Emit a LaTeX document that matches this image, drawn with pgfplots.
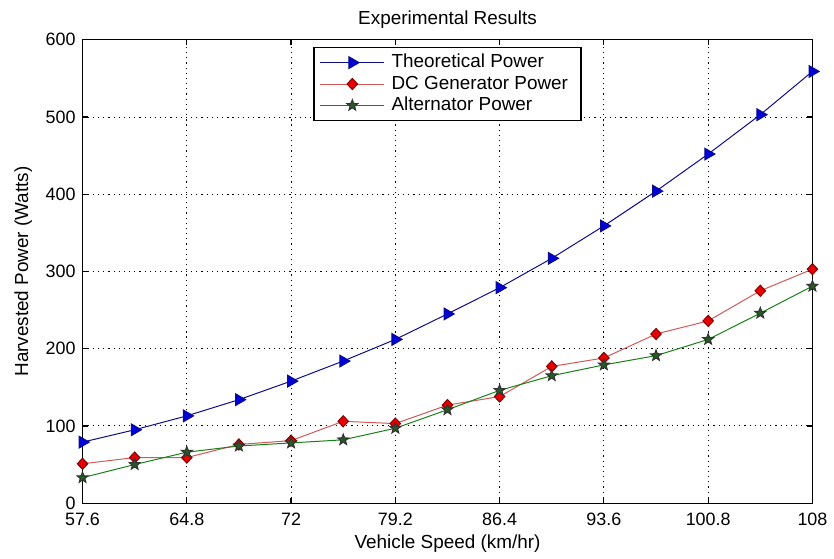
\documentclass[border=0pt]{standalone}
\usepackage{pgfplots}
\pgfplotsset{compat=1.18}
\usepackage{fontspec}
\setmainfont{Liberation Sans}
\pgfdeclareplotmark{fstar}{%
  \pgfpathmoveto{\pgfpointpolar{90}{\pgfplotmarksize}}%
  \pgfpathlineto{\pgfpointpolar{126}{0.42\pgfplotmarksize}}%
  \pgfpathlineto{\pgfpointpolar{162}{\pgfplotmarksize}}%
  \pgfpathlineto{\pgfpointpolar{198}{0.42\pgfplotmarksize}}%
  \pgfpathlineto{\pgfpointpolar{234}{\pgfplotmarksize}}%
  \pgfpathlineto{\pgfpointpolar{270}{0.42\pgfplotmarksize}}%
  \pgfpathlineto{\pgfpointpolar{306}{\pgfplotmarksize}}%
  \pgfpathlineto{\pgfpointpolar{342}{0.42\pgfplotmarksize}}%
  \pgfpathlineto{\pgfpointpolar{18}{\pgfplotmarksize}}%
  \pgfpathlineto{\pgfpointpolar{54}{0.42\pgfplotmarksize}}%
  \pgfpathclose
  \pgfusepathqfillstroke}
\definecolor{tline}{rgb}{0.05,0.05,0.55}
\definecolor{tfill}{rgb}{0.0,0.0,0.85}
\definecolor{rline}{rgb}{0.82,0.35,0.35}
\definecolor{rfill}{rgb}{0.92,0.0,0.0}
\definecolor{redge}{rgb}{0.5,0.0,0.0}
\definecolor{gline}{rgb}{0.1,0.5,0.1}
\definecolor{gfill}{rgb}{0.15,0.35,0.15}
\begin{document}
\begin{tikzpicture}
\begin{axis}[
  name=ax, at={(0,0)}, anchor=south west,
  scale only axis, width=367pt, height=233pt,
  xmin=57.6, xmax=108, ymin=0, ymax=600,
  xtick={57.6,64.8,72,79.2,86.4,93.6,100.8,108},
  xticklabels={57.6,64.8,72,79.2,86.4,93.6,100.8,108},
  ytick={0,100,200,300,400,500,600},
  /pgf/number format/assume math mode=true,
  grid=major,
  major grid style={black, line width=0.5pt, dash pattern=on 0.6pt off 2pt},
  axis line style={black, line width=0.6pt},
  major tick length=2.5pt,
  tick style={black, line width=0.6pt},
  tick label style={font=\fontsize{9}{10}\selectfont, black},
  xticklabel style={yshift=-1.5pt},
  label style={font=\fontsize{9.5}{11}\selectfont},
  title style={font=\fontsize{9.5}{11}\selectfont, yshift=-4pt},
  title={Experimental Results},
  xlabel={Vehicle Speed (km/hr)},
  ylabel={Harvested Power (Watts)},
  xlabel style={yshift=2.5pt},
  ylabel style={yshift=0pt},
  legend cell align=left,
  legend style={at={(0.5,1)}, anchor=north, yshift=-3.5pt,
    draw=black, line width=0.6pt, font=\fontsize{9.5}{11}\selectfont,
    row sep=-1.5pt, inner xsep=3pt, inner ysep=1.5pt,
    nodes={inner xsep=3.5pt}},
  legend image code/.code={\draw[mark repeat=2, mark phase=2] plot coordinates {(0pt,0pt) (16pt,0pt) (32pt,0pt)};},
]
\addplot[tline, line width=0.5pt, mark=triangle*, mark size=3.4pt,
  mark options={rotate=-90, fill=tfill, draw=tline}]
coordinates {
(57.6,79) (61.2,95) (64.8,113) (68.4,134) (72,158) (75.6,184) (79.2,212)
(82.8,245) (86.4,279) (90,317) (93.6,359) (97.2,404) (100.8,452) (104.4,503) (108,559)};
\addlegendentry{Theoretical Power}
\addplot[rline, line width=0.5pt, mark=diamond*, mark size=2.8pt,
  mark options={xscale=1.25, fill=rfill, draw=redge}]
coordinates {
(57.6,51) (61.2,59) (64.8,59) (68.4,76) (72,81) (75.6,106) (79.2,103)
(82.8,127) (86.4,138) (90,177) (93.6,188) (97.2,219) (100.8,236) (104.4,275) (108,303)};
\addlegendentry{DC Generator Power}
\addplot[gline, line width=0.5pt, mark=fstar, mark size=2.9pt,
  mark options={fill=gfill, draw=black!80}]
coordinates {
(57.6,33) (61.2,50) (64.8,66) (68.4,74) (72,78) (75.6,82) (79.2,97)
(82.8,121) (86.4,146) (90,165) (93.6,179) (97.2,191) (100.8,212) (104.4,246) (108,281)};
\addlegendentry{Alternator Power}
\end{axis}
\path (ax.south west) ++(-41.5pt,-23pt);
\path (ax.north east) ++(8.5pt,20pt);
\end{tikzpicture}
\end{document}
